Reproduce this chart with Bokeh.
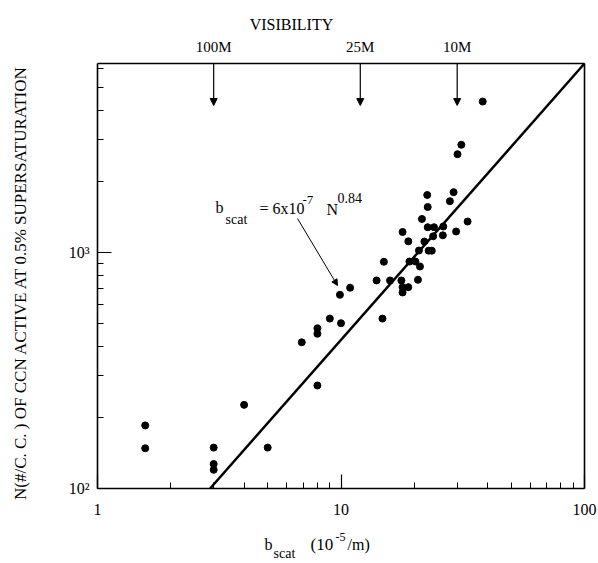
import numpy as np
from bokeh.plotting import figure
from bokeh.models import Label, Arrow, NormalHead, ColumnDataSource, Range1d, FixedTicker, LogAxis
from bokeh.embed import file_html
from bokeh.resources import INLINE

# ---- data ----
b_scat = [1.57, 1.57, 3.0, 3.0, 3.0, 4.0, 5.0, 8.0, 6.9, 8.0, 8.0, 9.0, 10.0, 9.9, 10.9,
          14.0, 15.0, 14.8, 15.9, 17.7, 17.9, 18.9, 17.9, 17.9, 18.9, 19.1, 20.2, 20.7,
          20.9, 21.1, 21.5, 22.0, 22.6, 22.7, 22.7, 24.1, 22.9, 23.6, 23.9, 26.2, 26.3,
          28.0, 29.0, 29.7, 30.1, 31.2, 33.1, 38.2]
n_ccn = [185, 148, 149, 127, 120, 226, 149, 273, 416, 477, 452, 524, 501, 661, 708,
         760, 912, 524, 760, 760, 712, 712, 676, 1219, 1113, 914, 914, 765,
         1018, 871, 1384, 1111, 1748, 1555, 1277, 1277, 1016, 1016, 1169, 1180, 1286,
         1646, 1797, 1225, 2602, 2852, 1350, 4348]

fit_b = [2.9, 100.0]
fit_n = [100.0, 6300.0]

vis_labels = ["100M", "25M", "10M"]
vis_b = [3.0, 12.0, 30.0]

x_ticks = [1, 10, 100]
x_tick_labels = ["1", "10", "100"]
y_ticks = [100, 1000]
y_tick_labels = ["10\u00b2", "10\u00b3"]

# plotted box (data)
X0, X1 = 1.0, 100.0
Y0, Y1 = 100.0, 6300.0

# ---- layout (pixels of the 598x563 page) ----
W, H = 598, 563
BL, BR, BT, BB = 97, 584, 63, 488   # box edges

lxpp = (np.log10(X1) - np.log10(X0)) / (BR - BL)
lypp = (np.log10(Y1) - np.log10(Y0)) / (BB - BT)
x_lo = 10 ** (np.log10(X0) - BL * lxpp)
x_hi = 10 ** (np.log10(X1) + (W - BR) * lxpp)
y_lo = 10 ** (np.log10(Y0) - (H - BB) * lypp)
y_hi = 10 ** (np.log10(Y1) + BT * lypp)


def px_x(px):
    return 10 ** (np.log10(X0) + (px - BL) * lxpp)


def px_y(py):
    return 10 ** (np.log10(Y0) + (BB - py) * lypp)


SANS = "Liberation Sans Narrow"
SERIF = "Liberation Serif"

p = figure(x_axis_type="log", y_axis_type="log",
           x_range=Range1d(x_lo, x_hi), y_range=Range1d(y_lo, y_hi),
           width=W, height=H, min_border=0,
           output_backend="svg", toolbar_location=None)
p.title.visible = False
p.grid.visible = False
p.background_fill_color = "white"
p.border_fill_color = "white"
p.outline_line_color = None

x_minor = [m * d for d in (1, 10) for m in range(2, 10)]
y_minor = [m * d for d in (100, 1000) for m in range(2, 10) if m * d < Y1]

xa = p.xaxis[0]
ya = p.yaxis[0]
xa.fixed_location = Y0
ya.fixed_location = X0
xa.bounds = (X0, X1)
ya.bounds = (Y0, Y1)
xa.ticker = FixedTicker(ticks=x_ticks, minor_ticks=x_minor)
ya.ticker = FixedTicker(ticks=y_ticks, minor_ticks=y_minor)
xa.major_label_overrides = {t: s for t, s in zip(x_ticks, x_tick_labels)}
ya.major_label_overrides = {t: s for t, s in zip(y_ticks, y_tick_labels)}

top = LogAxis(fixed_location=Y1, bounds=(X0, X1),
              ticker=FixedTicker(ticks=vis_b, minor_ticks=[]),
              major_label_overrides={t: s for t, s in zip(vis_b, vis_labels)})
right = LogAxis(fixed_location=X1, bounds=(Y0, Y1),
                ticker=FixedTicker(ticks=[], minor_ticks=[]))
p.add_layout(top, "above")
p.add_layout(right, "right")

for ax in (xa, ya, top, right):
    ax.axis_line_width = 1.6
    ax.axis_line_color = "black"
    ax.major_tick_in = 14
    ax.major_tick_out = 0
    ax.minor_tick_in = 6
    ax.minor_tick_out = 0
    ax.major_tick_line_width = 1.2
    ax.minor_tick_line_width = 1.0
    ax.major_tick_line_color = "black"
    ax.minor_tick_line_color = "black"
    ax.major_label_text_font = SERIF
    ax.major_label_text_font_size = "16px"
    ax.major_label_text_color = "black"
xa.major_label_standoff = 15
ya.major_label_standoff = 8
top.major_tick_in = 0
top.major_label_text_font = SANS
top.major_label_text_font_size = "15px"
top.major_label_standoff = 9

# fit line
p.line(fit_b, fit_n, line_color="black", line_width=2.5)

# data points
src = ColumnDataSource(dict(b=b_scat, n=n_ccn))
p.scatter("b", "n", source=src, size=7, fill_color="black", line_color="black")

# visibility arrows
for vb in vis_b:
    p.add_layout(Arrow(end=NormalHead(size=7, fill_color="black", line_color="black", line_width=1),
                       x_start=vb, y_start=Y1, x_end=vb, y_end=px_y(105),
                       line_color="black", line_width=1.2))


def lab(px, py, t, size, font=SANS, **kw):
    p.add_layout(Label(x=px_x(px), y=px_y(py), text=t,
                       text_align=kw.pop("align", "left"),
                       text_baseline=kw.pop("baseline", "alphabetic"),
                       text_font=font, text_font_size=size, text_color="black", **kw))


lab(291, 24, "VISIBILITY", "16px", align="center")

# y axis label
lab(20, 282, "N(#/C. C. ) OF CCN ACTIVE AT 0.5% SUPERSATURATION", "17px",
    align="center", baseline="middle", angle=np.pi / 2)

# x axis label pieces
lab(264, 544, "b", "16px")
lab(273, 553, "scat", "14px")
lab(310, 544, "(10", "17px", SERIF)
lab(335, 536, "-5", "12px", SERIF)
lab(347, 544, "/m)", "16px", SERIF)

# formula annotation
lab(215, 207, "b", "16px")
lab(225, 219, "scat", "14px")
lab(259, 208, "= 6x10", "16px")
lab(302, 199, "-7", "13px")
lab(326, 209, "N", "16px")
lab(337, 197, "0.84", "14px")

p.add_layout(Arrow(end=NormalHead(size=6, fill_color="black", line_color="black", line_width=1),
                   x_start=px_x(297), y_start=px_y(218), x_end=px_x(337), y_end=px_y(285),
                   line_color="black", line_width=1))

open("out.html", "w").write(file_html(p, INLINE))
